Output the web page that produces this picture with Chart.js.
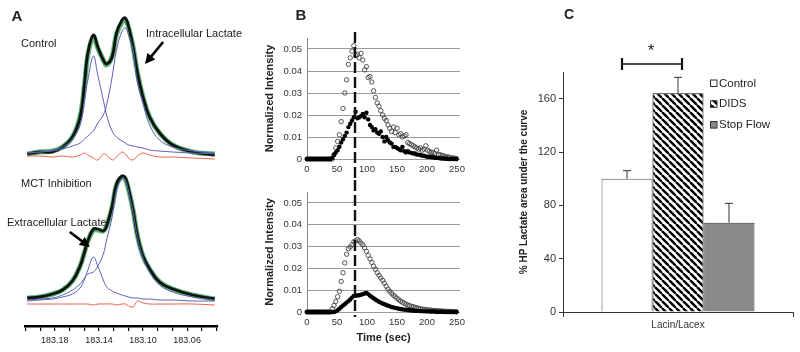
<!DOCTYPE html>
<html>
<head>
<meta charset="utf-8">
<script src="https://cdn.jsdelivr.net/npm/chart.js@4.4.1/dist/chart.umd.min.js"></script>
<style>
  body { margin: 0; background: #fff; }
  #fig { position: relative; width: 800px; height: 352px; overflow: hidden; background: #fff;
         font-family: 'Liberation Sans', Arial, sans-serif; color: #222; }
  canvas { position: absolute; }
  .t { position: absolute; white-space: nowrap; line-height: 1; transform: translate(0, -50%); font-size: 11px; }
  .c { transform: translate(-50%, -50%); }
  .b { font-weight: bold; }
</style>
</head>
<body>
<div id="fig">
  <canvas id="aTop" width="250" height="165" style="left:0;top:0"></canvas>
  <canvas id="aBot" width="250" height="187" style="left:0;top:165px"></canvas>
  <canvas id="bTop" width="215" height="180" style="left:258px;top:0"></canvas>
  <canvas id="bBot" width="215" height="172" style="left:258px;top:180px"></canvas>
  <canvas id="cBar" width="285" height="352" style="left:515px;top:0"></canvas>

  <div class="t c b" style="left:17px;top:15px;font-size:15px">A</div>
  <div class="t" style="left:21px;top:43px">Control</div>
  <div class="t" style="left:146px;top:33px">Intracellular Lactate</div>
  <div class="t" style="left:21px;top:183px">MCT Inhibition</div>
  <div class="t" style="left:7px;top:222px">Extracellular Lactate</div>
  <div class="t c b" style="left:301px;top:14px;font-size:15px">B</div>
  <div class="t c b" style="left:569px;top:14px;font-size:14px">C</div>
  <div class="t c" style="left:651px;top:50px;font-size:17px">*</div>
</div>
<script>
Chart.defaults.font.family = "'Liberation Sans', Arial, sans-serif";
Chart.defaults.color = '#222';

// ---- panel A: 13C spectra (ppm, arbitrary intensity) ----
const specPpm = [183.205, 183.194, 183.182, 183.173, 183.164, 183.157, 183.153, 183.150, 183.145, 183.141,
                 183.136, 183.133, 183.128, 183.124, 183.119, 183.116, 183.113, 183.109, 183.105, 183.100,
                 183.094, 183.085, 183.073, 183.055, 183.035];
const ctlTotal = [1, 3, 3, 8, 18, 38, 72, 102, 120, 108, 95, 91, 98, 122, 135, 137, 128, 108, 82, 58, 38, 22, 10, 3, 0];
const ctlFit   = [1, 3, 4, 8, 18, 39, 71, 100, 118, 107, 95, 90, 99, 121, 133, 135, 127, 108, 82, 58, 38, 22, 10, 3, 1];
const ctlExtra = [2, 3, 5, 8, 16, 30, 55, 75, 99, 80, 55, 40, 24, 18, 14, 12, 10, 9, 8, 7, 5, 4, 3, 2, 1];
const ctlIntra = [2, 3, 4, 6, 9, 12, 16, 19, 24, 32, 40, 50, 78, 105, 124, 127, 120, 105, 72, 52, 30, 15, 8, 4, 2];
const ctlResid = [-1, -1, -2, -1, -2, 0, 2, 0, -3, -5, 1, 0, -5, -2, 3, 1, -3, -5, -1, 2, 0, -2, -2, -3, -4];

const mctTotal = [4, 5, 8, 12, 21, 36, 50, 61, 73, 73, 71, 76, 96, 118, 126, 124, 113, 92, 66, 46, 33, 20, 13, 7, 3];
const mctFit   = [4, 5, 8, 12, 21, 36, 50, 61, 72, 72, 71, 76, 95, 117, 125, 123, 112, 92, 66, 46, 33, 20, 13, 7, 3];
const mctExtra = [1, 2, 3, 5, 8, 14, 23, 32, 45, 36, 22, 15, 11, 9, 7, 6, 5, 4, 4, 3, 3, 2, 2, 1, 1];
const mctIntra = [2, 3, 4, 7, 12, 18, 24, 28, 30, 36, 48, 62, 85, 112, 124, 122, 110, 90, 64, 44, 30, 17, 10, 5, 2];
const mctResid = [-2, -2, -2, -2, -2, -2, -2, -2, -3, -2, -2, -2, -2, -3, -2, -2, -4, -5, 1, -1, -2, -2, -2, -2, -3];

const ppmTicks = [183.2067, 183.1933, 183.18, 183.1667, 183.1533, 183.14, 183.1267, 183.1133, 183.10,
                  183.0867, 183.0733, 183.06, 183.0467, 183.0333];
const ppmLabels = [183.18, 183.14, 183.10, 183.06];

// ---- panel B: HP lactate time courses ----
const bTime = [0,3,6,9,12,15,18,21,24,27,30,33,36,39,42,45,48,51,54,57,60,63,66,69,72,75,78,81,84,87,
  90,93,96,99,102,105,108,111,114,117,120,123,126,129,132,135,138,141,144,147,150,153,156,159,162,165,
  168,171,174,177,180,183,186,189,192,195,198,201,204,207,210,213,216,219,222,225,228,231,234,237,240,
  243,246,249];
const topOpen = [0,0,0,0,0,0,0,0,0,0,0,0,0,0,0,
  0.002,0.005,0.008,0.011,0.017,0.023,0.030,0.036,0.043,0.046,
  0.049,0.0515,0.047,0.0475,0.046,0.048,0.045,0.0405,0.042,0.037,
  0.0375,0.035,0.031,0.028,0.0255,0.024,0.022,0.020,0.0185,0.0175,
  0.0155,0.014,0.0125,0.0145,0.012,0.014,0.011,0.0115,0.010,0.0105,
  0.011,0.0075,0.007,0.0065,0.006,0.0055,0.005,0.0045,0.005,0.004,
  0.0045,0.006,0.004,0.0035,0.003,0.003,0.0025,0.004,0.002,0.002,
  0.0015,0.0015,0.001,0.001,0.0008,0.0005,0.0005,0.0003,0.0002];
const topFilled = [0,0,0,0,0,0,0,0,0,0,0,0,0,0,
  0.0005,0.0018,0.003,0.004,0.0056,0.0075,0.009,0.0105,0.012,0.0145,
  0.016,0.0175,0.019,0.0215,0.0185,0.019,0.0195,0.0205,0.019,0.021,
  0.018,0.0155,0.0145,0.013,0.0135,0.012,0.0115,0.0125,0.010,0.008,
  0.010,0.0085,0.0075,0.007,0.0055,0.0055,0.005,0.0045,0.004,0.0055,
  0.0035,0.003,0.0035,0.003,0.0028,0.0025,0.0025,0.002,0.002,0.0018,
  0.0015,0.0015,0.0012,0.001,0.001,0.0008,0.0008,0.0006,0.0005,0.0004,
  0.0003,0.0002,0.0002,0.0001,0.0001,0,0,0,0,0];
const botOpen = [0,0,0,0,0,0,0,0,0,0,0,0,0,0,
  0.0015,0.003,0.0048,0.007,0.0095,0.014,0.018,0.0225,0.0265,0.029,
  0.0298,0.0308,0.0322,0.0326,0.0332,0.0326,0.0316,0.0308,0.0294,0.0278,
  0.026,0.0243,0.0227,0.021,0.0196,0.018,0.0168,0.0156,0.0145,0.0132,
  0.0118,0.0105,0.0095,0.0085,0.0077,0.007,0.0063,0.0056,0.005,0.0045,
  0.004,0.0036,0.0032,0.0029,0.0026,0.0024,0.0021,0.0019,0.0017,0.0015,
  0.0013,0.0012,0.001,0.001,0.0009,0.0008,0.0007,0.0006,0.0006,0.0005,
  0.0005,0.0004,0.0004,0.0003,0.0003,0.0003,0.0002,0.0002,0.0002,0.0001];
const botFilled = [0,0,0,0,0,0,0,0,0,0,0,0,0,0,0,0,
  0.0003,0.0008,0.0015,0.0023,0.003,0.0036,0.0043,0.005,0.0057,0.0066,
  0.0074,0.0075,0.0076,0.0077,0.0079,0.0082,0.0085,0.0087,0.0082,0.0075,
  0.0069,0.0063,0.0057,0.0052,0.0047,0.0043,0.0039,0.0036,0.0032,0.0029,
  0.0026,0.0023,0.0021,0.0019,0.0017,0.0015,0.0014,0.0012,0.0011,0.001,
  0.0009,0.0008,0.0007,0.0007,0.0006,0.0005,0.0005,0.0004,0.0004,0.0003,
  0.0003,0.0003,0.0002,0.0002,0.0002,0.0002,0.0001,0.0001,0.0001,0.0001,
  0.0001,0,0,0,0,0,0,0];
const bTicksX = [0, 50, 100, 150, 200, 250];
const bTicksY = [0, 0.01, 0.02, 0.03, 0.04, 0.05];
const dashTime = 80;

// ---- panel C: bar chart ----
const cCategories = ['Lacin/Lacex'];
const cGroups = ['Control', 'DIDS', 'Stop Flow'];
const cMeans = [100, 164, 67];
const cErrors = [6, 12, 14.5];
const cTicks = [0, 40, 80, 120, 160];

const toPoints = (xs, ys) => xs.map((x, i) => ({x, y: ys[i]}));
const base = {responsive: false, animation: false, events: [],
  plugins: {legend: {display: false}, tooltip: {enabled: false}}};

function line(data, color, width) {
  return {data: toPoints(specPpm, data), borderColor: color, borderWidth: width,
          pointRadius: 0, tension: 0.4, clip: false};
}

function arrow(tail, head) {
  return {
    id: 'arrow',
    afterDatasetsDraw(chart) {
      const {ctx, scales: {x, y}} = chart;
      const x0 = x.getPixelForValue(tail[0]), y0 = y.getPixelForValue(tail[1]);
      const x1 = x.getPixelForValue(head[0]), y1 = y.getPixelForValue(head[1]);
      const a = Math.atan2(y1 - y0, x1 - x0), c = Math.cos(a), s = Math.sin(a);
      ctx.save();
      ctx.strokeStyle = '#000'; ctx.fillStyle = '#000'; ctx.lineWidth = 2.6;
      ctx.beginPath(); ctx.moveTo(x0, y0); ctx.lineTo(x1 - 7 * c, y1 - 7 * s); ctx.stroke();
      ctx.beginPath(); ctx.moveTo(x1, y1);
      ctx.lineTo(x1 - 10 * c + 5 * s, y1 - 10 * s - 5 * c);
      ctx.lineTo(x1 - 10 * c - 5 * s, y1 - 10 * s + 5 * c);
      ctx.closePath(); ctx.fill();
      ctx.restore();
    }
  };
}

const ppmScale = {type: 'linear', reverse: true, min: 183.032, max: 183.207};

new Chart(document.getElementById('aTop'), {
  type: 'line',
  data: {datasets: [
    line(ctlResid, '#ec5f48', 1), line(ctlExtra, '#5b5fb4', 1), line(ctlIntra, '#5b5fb4', 1),
    line(ctlTotal, '#111', 2.8), line(ctlFit, '#5cb675', 5)
  ]},
  options: {...base,
    layout: {padding: {left: 25, right: 32, top: 10, bottom: 0}},
    scales: {x: {...ppmScale, display: false}, y: {min: -10, max: 145, display: false}}},
  plugins: [arrow([183.0818, 113], [183.0982, 91])]
});

new Chart(document.getElementById('aBot'), {
  type: 'line',
  data: {datasets: [
    line(mctResid, '#ec5f48', 1), line(mctExtra, '#5b5fb4', 1), line(mctIntra, '#5b5fb4', 1),
    line(mctTotal, '#111', 2.8), line(mctFit, '#5cb675', 5)
  ]},
  options: {...base,
    layout: {padding: {left: 25, right: 32, top: 0, bottom: 0}},
    scales: {
      x: {...ppmScale,
        afterBuildTicks: s => { s.ticks = ppmTicks.map(v => ({value: v})); },
        afterFit: s => { s.height = 26; },
        grid: {drawOnChartArea: false, tickLength: 5, color: '#000', lineWidth: 1.2},
        border: {color: '#000', width: 2.5},
        ticks: {autoSkip: false, maxRotation: 0, padding: 4, color: '#222',
          font: {size: 9, family: "'Liberation Sans Narrow', 'Liberation Sans', Arial, sans-serif"},
          callback: v => { const m = ppmLabels.find(l => Math.abs(l - v) < 1e-4); return m ? m.toFixed(2) : ''; }}
      },
      y: {min: -24, max: 137, display: false}
    }},
  plugins: [arrow([183.1664, 70], [183.1482, 55])]
});

// panel B
function dash(y0, y1) {
  return {
    id: 'dash',
    afterDatasetsDraw(chart) {
      const {ctx} = chart;
      const x = chart.scales.x.getPixelForValue(dashTime);
      ctx.save();
      ctx.strokeStyle = '#111'; ctx.lineWidth = 2.4; ctx.setLineDash([11, 4]);
      ctx.beginPath(); ctx.moveTo(x, y0); ctx.lineTo(x, y1); ctx.stroke();
      ctx.restore();
    }
  };
}

function timeChart(id, open, filled, padTop, xHeight, withTitle, dashY) {
  return new Chart(document.getElementById(id), {
    type: 'scatter',
    data: {datasets: [
      {data: toPoints(bTime, filled), pointRadius: 2.2, backgroundColor: '#000', borderColor: '#000', borderWidth: 0, clip: false},
      {data: toPoints(bTime, open), pointRadius: 2.2, backgroundColor: 'rgba(255,255,255,0)', borderColor: '#444', borderWidth: 0.9, clip: false}
    ]},
    options: {...base,
      layout: {padding: {left: 0, right: 13, top: padTop, bottom: 0}},
      scales: {
        x: {type: 'linear', min: 0, max: 255,
          afterBuildTicks: s => { s.ticks = bTicksX.map(v => ({value: v})); },
          afterFit: s => { s.height = xHeight; },
          grid: {display: false, drawTicks: false}, border: {display: false},
          ticks: {font: {size: 9.5}, color: '#333', padding: 5, maxRotation: 0},
          title: {display: withTitle, text: 'Time (sec)', font: {size: 11, weight: 'bold'}, color: '#222',
                  padding: {top: 0, bottom: 7}}},
        y: {min: 0, max: 0.055,
          afterBuildTicks: s => { s.ticks = bTicksY.map(v => ({value: v})); },
          afterFit: s => { s.width = 49; },
          grid: {color: '#9c9c9c', drawTicks: false},
          border: {color: '#888'},
          ticks: {font: {size: 9.5}, color: '#333', padding: 5},
          title: {display: true, text: 'Normalized Intensity', font: {size: 11, weight: 'bold'}, color: '#222',
                  padding: {top: 5, bottom: 0}}}
      }},
    plugins: [dash(dashY[0], dashY[1])]
  });
}
timeChart('bTop', topOpen, topFilled, 38, 21, false, [32, 180]);
timeChart('bBot', botOpen, botFilled, 12, 40, true, [0, 137]);

// panel C
function hatch() {
  const p = 7, c = document.createElement('canvas');
  c.width = p; c.height = p;
  const g = c.getContext('2d');
  g.fillStyle = '#fff'; g.fillRect(0, 0, p, p);
  g.strokeStyle = '#000'; g.lineWidth = 2.4;
  for (const k of [-1, 0, 1]) { g.beginPath(); g.moveTo(k * p, 0); g.lineTo(k * p + p, p); g.stroke(); }
  return g.createPattern(c, 'repeat');
}
const cFills = ['#fff', hatch(), '#8a8a8a'];
const cBorders = ['#555', '#000', '#333'];

const cExtras = {
  id: 'cExtras',
  afterDatasetsDraw(chart) {
    const {ctx, scales: {y}} = chart;
    ctx.save();
    ctx.strokeStyle = '#333'; ctx.lineWidth = 1;
    cMeans.forEach((m, i) => {
      const bar = chart.getDatasetMeta(i).data[0];
      const top = y.getPixelForValue(m + cErrors[i]);
      ctx.beginPath();
      ctx.moveTo(bar.x, bar.y); ctx.lineTo(bar.x, top);
      ctx.moveTo(bar.x - 4, top); ctx.lineTo(bar.x + 4, top);
      ctx.stroke();
    });
    // significance bracket Control vs DIDS
    const l = chart.getDatasetMeta(0).data[0].x - 5, r = chart.getDatasetMeta(1).data[0].x + 4, yb = 64;
    ctx.strokeStyle = '#111'; ctx.lineWidth = 1.3;
    ctx.beginPath(); ctx.moveTo(l, yb); ctx.lineTo(r, yb); ctx.stroke();
    ctx.lineWidth = 2.2;
    ctx.beginPath(); ctx.moveTo(l, yb - 6); ctx.lineTo(l, yb + 6); ctx.moveTo(r, yb - 6); ctx.lineTo(r, yb + 6); ctx.stroke();
    // legend
    const lx = chart.chartArea.right - 83;
    ctx.font = "11.5px 'Liberation Sans', Arial, sans-serif";
    ctx.textBaseline = 'middle';
    cGroups.forEach((g, i) => {
      const yy = 83 + i * 20.8;
      ctx.fillStyle = cFills[i]; ctx.fillRect(lx, yy - 3.5, 7, 7);
      ctx.strokeStyle = '#333'; ctx.lineWidth = 1; ctx.strokeRect(lx + 0.5, yy - 3, 6.5, 6.5);
      ctx.fillStyle = '#222'; ctx.fillText(g, lx + 9, yy + 0.5);
    });
    ctx.restore();
  }
};

new Chart(document.getElementById('cBar'), {
  type: 'bar',
  data: {labels: cCategories,
    datasets: cGroups.map((g, i) => ({label: g, data: [cMeans[i]], backgroundColor: cFills[i],
      borderColor: cBorders[i], borderWidth: 1, categoryPercentage: 0.665, barPercentage: 1}))},
  options: {...base,
    layout: {padding: {left: 0, right: 7, top: 72, bottom: 0}},
    scales: {
      x: {afterFit: s => { s.height = 40; },
        grid: {offset: true, drawOnChartArea: false, tickLength: 5, color: '#333'},
        border: {color: '#333', width: 1},
        ticks: {font: {size: 10}, color: '#333', padding: 2}},
      y: {min: 0, max: 180,
        afterBuildTicks: s => { s.ticks = cTicks.map(v => ({value: v})); },
        afterFit: s => { s.width = 48; },
        grid: {drawOnChartArea: false, tickLength: 4, color: '#333'},
        border: {color: '#333', width: 1},
        ticks: {font: {size: 11}, color: '#333', padding: 3},
        title: {display: true, text: '% HP Lactate area under the curve', font: {size: 10, weight: 'bold'},
                color: '#222', padding: {top: 3, bottom: 0}}}
    }},
  plugins: [cExtras]
});
</script>
</body>
</html>
